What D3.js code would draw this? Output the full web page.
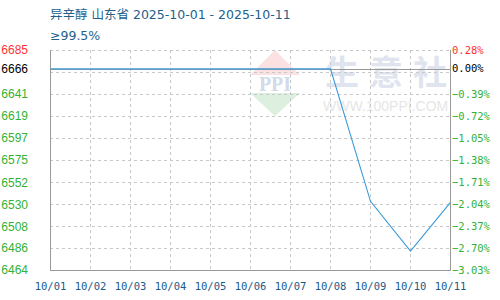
<!DOCTYPE html>
<html>
<head>
<meta charset="utf-8">
<script src="https://cdn.jsdelivr.net/npm/d3@7"></script>
<style>
  body { margin: 0; background: #fff; }
  svg { display: block; }
</style>
</head>
<body>
<svg id="chart" width="500" height="300"></svg>
<script>
// values
var dates = ["10/01", "10/02", "10/03", "10/04", "10/05", "10/06", "10/07", "10/08", "10/09", "10/10", "10/11"];
var prices = [6666, 6666, 6666, 6666, 6666, 6666, 6666, 6666, 6533, 6483, 6532];
var leftTicks = [6685, 6666, 6641, 6619, 6597, 6575, 6552, 6530, 6508, 6486, 6464];
var rightTicks = [0.28, 0.00, -0.39, -0.72, -1.05, -1.38, -1.71, -2.04, -2.37, -2.70, -3.03];
var basePrice = 6666;

var m = { left: 50, right: 450, top: 50, bottom: 270 };
var svg = d3.select("#chart");

var x = d3.scalePoint().domain(dates).range([m.left, m.right]);
var y = d3.scaleLinear().domain([6464, 6685]).range([m.bottom, m.top]);
var yPct = d3.scaleLinear().domain([-3.03, 0.28]).range([m.bottom, m.top]);
var gridY = d3.scalePoint().domain(d3.range(leftTicks.length)).range([m.top, m.bottom]);

function tickColor(v) {
  if (v > basePrice) return "#ff3333";
  if (v == basePrice) return "#000";
  return "#33b233";
}

// title
svg.append("text").attr("x", 50).attr("y", 19)
  .attr("font-family", "'DejaVu Sans', 'Noto Sans CJK SC', sans-serif")
  .attr("font-size", 12.5).attr("fill", "#235f8d")
  .text("异辛醇 山东省 2025-10-01 - 2025-10-11");
svg.append("text").attr("x", 50).attr("y", 40)
  .attr("font-family", "'DejaVu Sans', 'Noto Sans CJK SC', sans-serif")
  .attr("font-size", 12.5).attr("fill", "#235f8d")
  .text("≥99.5%");

// watermark
var wm = svg.append("g");
wm.append("path").attr("d", "M275,50 L300,75 L250,75 Z").attr("fill", "#fbe1e1");
wm.append("path").attr("d", "M250,93 L300,93 L275,116 Z").attr("fill", "#ddf0e0");
wm.append("text").attr("x", 275).attr("y", 91).attr("text-anchor", "middle")
  .attr("font-family", "'Liberation Serif', serif").attr("font-weight", "bold")
  .attr("font-size", 20).attr("fill", "#d3dae8").text("PPI");
wm.selectAll("text.brand")
  .data(["生", "意", "社"])
  .enter().append("text").attr("class", "brand")
  .attr("x", function(d, i) { return 325 + i * 44; }).attr("y", 85)
  .attr("font-family", "'Noto Sans CJK SC', sans-serif").attr("font-weight", "bold")
  .attr("font-size", 34).attr("fill", "#dfe4ee")
  .text(function(d) { return d; });
wm.append("text").attr("x", 323).attr("y", 111)
  .attr("font-family", "'Liberation Sans', sans-serif")
  .attr("font-size", 14).attr("fill", "#e6e6e6").text("WWW.100PPI.COM");

// grid
svg.append("g").selectAll("line")
  .data(d3.range(leftTicks.length))
  .enter().append("line")
  .attr("x1", m.left).attr("x2", m.right)
  .attr("y1", function(d) { return gridY(d) + 0.5; })
  .attr("y2", function(d) { return gridY(d) + 0.5; })
  .attr("stroke", "#c8c8c8").attr("stroke-dasharray", "3,3");
svg.append("g").selectAll("line")
  .data(dates)
  .enter().append("line")
  .attr("x1", function(d) { return x(d) + 0.5; })
  .attr("x2", function(d) { return x(d) + 0.5; })
  .attr("y1", m.top).attr("y2", m.bottom)
  .attr("stroke", "#c8c8c8").attr("stroke-dasharray", "3,3");

// zero line
svg.append("line")
  .attr("x1", m.left).attr("x2", m.right)
  .attr("y1", Math.round(y(basePrice)) + 0.5).attr("y2", Math.round(y(basePrice)) + 0.5)
  .attr("stroke", "#999");

// frame
svg.append("path")
  .attr("d", "M" + (m.left + 0.5) + "," + m.top + "V" + (m.bottom + 0.5) + "H" + (m.right + 0.5) + "V" + m.top)
  .attr("fill", "none").attr("stroke", "#999");

// line
var line = d3.line()
  .x(function(d, i) { return x(dates[i]) + 0.5; })
  .y(function(d) { return y(d); });
svg.append("path").datum(prices)
  .attr("d", line)
  .attr("fill", "none").attr("stroke", "#3a9ad9").attr("stroke-width", 1.1);

// left axis
var leftAxis = d3.axisLeft(y).tickValues(leftTicks).tickSize(0).tickPadding(0)
  .tickFormat(d3.format("d"));
var gl = svg.append("g").attr("transform", "translate(28,0)").call(leftAxis);
gl.select(".domain").remove();
gl.selectAll("text")
  .attr("font-family", "'Liberation Sans Narrow', 'Liberation Sans', sans-serif")
  .attr("font-size", 12)
  .attr("fill", function(d) { return tickColor(d); });

// right axis
var rightAxis = d3.axisRight(yPct).tickValues(rightTicks).tickSize(0).tickPadding(0)
  .tickFormat(function(d) { return d3.format(".2f")(d) + "%"; });
var gr = svg.append("g").attr("transform", "translate(452,0)").call(rightAxis);
gr.select(".domain").remove();
gr.selectAll("text")
  .attr("font-family", "'DejaVu Sans Mono', monospace")
  .attr("font-size", 10.5)
  .attr("fill", function(d) { return d > 0 ? "#ff3333" : (d == 0 ? "#000" : "#33b233"); });

// bottom axis
var bottomAxis = d3.axisBottom(x).tickSize(0).tickPadding(0);
var gb = svg.append("g").attr("transform", "translate(0,283)").call(bottomAxis);
gb.select(".domain").remove();
gb.selectAll("text")
  .attr("font-family", "'DejaVu Sans Mono', monospace")
  .attr("font-size", 10.5)
  .attr("fill", "#1a5a8a");
</script>
</body>
</html>
